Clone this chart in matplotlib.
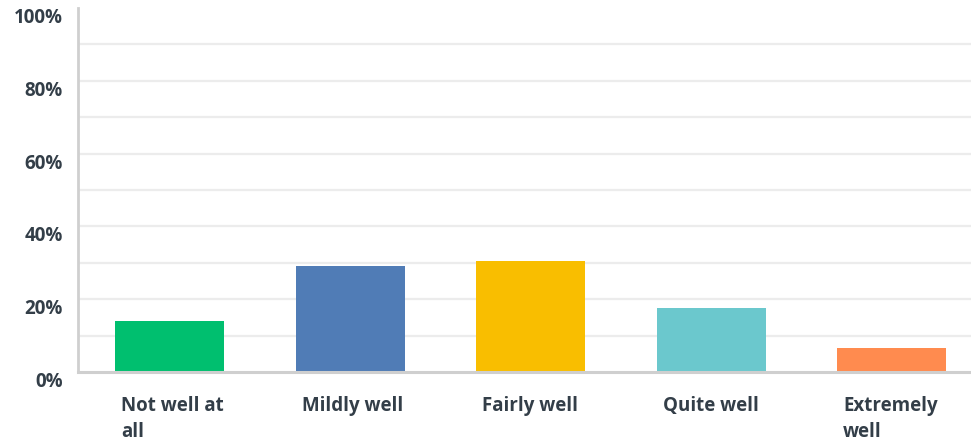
import textwrap
import matplotlib
matplotlib.use("Agg")
import matplotlib.pyplot as plt
import matplotlib.transforms as mtransforms

# donnees
categories = ["Not well at all", "Mildly well", "Fairly well", "Quite well", "Extremely well"]
values = [14.0, 29.1, 30.5, 17.6, 6.6]
colors = ["#00bf6f", "#507cb6", "#f9be00", "#6bc8cd", "#ff8b4f"]
yticks = [0, 20, 40, 60, 80, 100]
ytick_labels = ["0%", "20%", "40%", "60%", "80%", "100%"]

plt.rcParams['font.family'] = ['Open Sans', 'DejaVu Sans']
text_color = "#333e48"

fig = plt.figure(figsize=(9.71, 4.43), dpi=100)
ax = fig.add_axes([78 / 971, (443 - 372) / 443, 1 - 78 / 971, (372 - 8) / 443])

bar_w = 0.604
x = range(len(categories))
ax.bar(x, values, width=bar_w, color=colors, zorder=3)

ax.set_xlim(-0.507, 4.44)
ax.set_ylim(0, 100)

# grille tous les 10%
for g in range(10, 100, 10):
    ax.axhline(g, color="#ececec", lw=1.6, zorder=1)

for s in ["top", "right"]:
    ax.spines[s].set_visible(False)
ax.spines["left"].set_color("#cfcfcf")
ax.spines["bottom"].set_color("#cfcfcf")
ax.spines["left"].set_linewidth(2)
ax.spines["bottom"].set_linewidth(2.2)
ax.spines["bottom"].set_zorder(4)

ax.set_xticks([])
ax.set_yticks([])

# etiquettes y decalees vers le bas
off_y = mtransforms.ScaledTranslation(-15 / 100, -10 / 100, fig.dpi_scale_trans)
for v, lab in zip(yticks, ytick_labels):
    ax.text(0, v, lab, transform=ax.get_yaxis_transform() + off_y,
            ha="right", va="center", fontsize=13.5, fontweight="bold",
            color=text_color)

# etiquettes x alignees a gauche des barres
off_x = mtransforms.ScaledTranslation(6 / 100, -24 / 100, fig.dpi_scale_trans)
trans = mtransforms.blended_transform_factory(ax.transData, ax.transAxes)
for i, cat in enumerate(categories):
    ax.text(i - bar_w / 2, 0, textwrap.fill(cat, 11), transform=trans + off_x,
            ha="left", va="top", fontsize=13.5, fontweight="bold",
            color=text_color, linespacing=1.4)

fig.savefig("out.png", dpi=100)
